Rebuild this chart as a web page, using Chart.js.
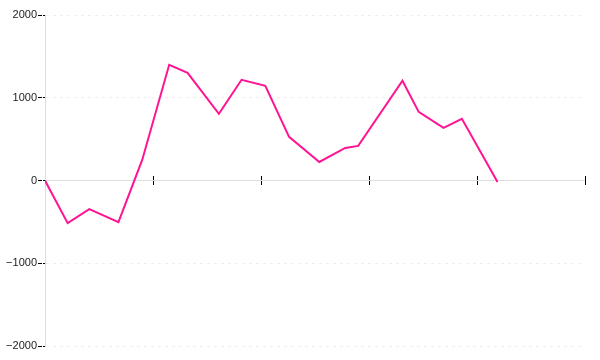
<!DOCTYPE html>
<html>
<head>
<meta charset="utf-8">
<script src="https://cdn.jsdelivr.net/npm/chart.js@4"></script>
<style>
  html, body { margin: 0; padding: 0; background: #fff; }
  #wrap { width: 600px; height: 360px; }
</style>
</head>
<body>
<div id="wrap"><canvas id="c" width="600" height="360"></canvas></div>
<script>
const xValues = [0, 21, 41, 68, 90, 115, 132, 161, 182, 204, 226, 254, 278, 290, 331, 346, 369, 386, 419];
const yValues = [0, -515, -345, -502, 248, 1398, 1301, 805, 1217, 1144, 527, 224, 393, 418, 1205, 829, 635, 745, -18];
const xRange = [0, 500];
const xStep = 100;
const yRange = [-2000, 2000];
const yStep = 1000;

const points = xValues.map((x, i) => ({ x: x, y: yValues[i] }));

new Chart(document.getElementById('c'), {
  type: 'line',
  data: {
    datasets: [{
      data: points,
      borderColor: '#ff1493',
      borderWidth: 2,
      pointRadius: 0,
      tension: 0,
      fill: false
    }]
  },
  options: {
    responsive: false,
    animation: false,
    devicePixelRatio: 1,
    layout: { padding: { left: 0, right: 15, top: 15, bottom: 14 } },
    plugins: { legend: { display: false }, tooltip: { enabled: false } },
    scales: {
      x: {
        type: 'linear',
        min: xRange[0],
        max: xRange[1],
        position: { y: 50 },
        ticks: { stepSize: xStep, display: false },
        grid: {
          drawOnChartArea: false,
          drawTicks: true,
          tickLength: 9,
          tickColor: '#000',
          tickWidth: 1
        },
        border: { display: false }
      },
      y: {
        type: 'linear',
        min: yRange[0],
        max: yRange[1],
        afterFit: (s) => { s.width = 45; },
        ticks: {
          stepSize: yStep,
          padding: 1,
          color: '#222',
          font: { family: 'Liberation Sans', size: 11 },
          callback: (v) => (v < 0 ? '\u2212' + Math.abs(v) : String(v))
        },
        grid: {
          color: (ctx) => (ctx.tick && ctx.tick.value === 0) ? '#dddddd' : '#eeeeee',
          lineWidth: 1,
          drawTicks: true,
          tickLength: 7,
          tickColor: '#000',
          tickBorderDash: [4, 1]
        },
        border: {
          display: true,
          color: '#dddddd',
          width: 1,
          dash: (ctx) => (ctx.tick && ctx.tick.value === 0) ? [] : [3, 4]
        }
      }
    }
  }
});
</script>
</body>
</html>
